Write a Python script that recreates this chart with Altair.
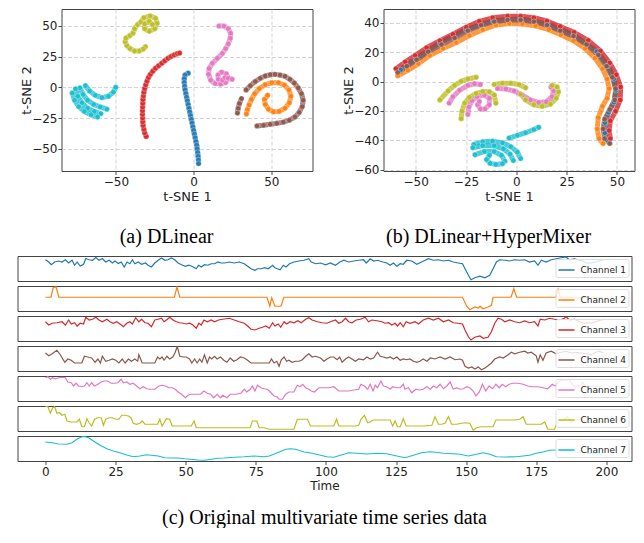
import altair as alt
import pandas as pd

TAB10 = ["#1f77b4", "#ff7f0e", "#d62728", "#8c564b", "#e377c2", "#bcbd22", "#17becf"]
CHANNELS = ["1", "2", "3", "4", "5", "6", "7"]

# ---------------- (a) DLinear t-SNE : segments (channel, points) ----------------
A_SEGS = [
    ("1", [(-3.5, 11.5), (-5.5, 10), (-6, 7), (-6, 4), (-5.8, 1), (-5.5, -2), (-5, -5), (-4.5, -8), (-4, -11),
           (-3.5, -14), (-3, -17), (-2.5, -20), (-2, -23), (-1.5, -26), (-1, -29), (-0.5, -32), (0, -35),
           (0.5, -38), (1, -41), (1.5, -44), (2, -47), (2.3, -50), (2.6, -53), (2.9, -56), (3.1, -59), (3.2, -62)]),
    ("2", [(47.6, -6.5), (45.6, -9.9), (46.1, -13.9), (48.2, -17.8), (51.4, -19.9), (55, -19.6), (58.8, -17),
           (61.6, -12.6), (62.6, -7.3), (61.4, -2.1), (58.4, 1.8), (54.6, 3.7), (50.3, 3.7), (46.1, 2.1),
           (42.3, -1), (39.3, -5.2), (37.2, -9.9), (35.7, -14.4), (34.6, -18.3), (34, -21.7)]),
    ("3", [(-30.5, -40), (-31.5, -37), (-32, -34), (-32.5, -31), (-32.7, -28), (-32.8, -25), (-32.9, -22),
           (-32.9, -19), (-32.8, -16), (-32.7, -13), (-32.6, -10), (-32.3, -7), (-32, -4), (-31.5, -1),
           (-30.8, 2), (-30, 5), (-29, 8), (-27.8, 10.5), (-26.3, 13), (-24.5, 15.5), (-22.5, 17.5),
           (-20.5, 19.5), (-18.5, 21.5), (-16.5, 23.5), (-14.5, 25), (-12.5, 26.3), (-10.5, 27.3), (-9, 27.8)]),
    ("4", [(33.8, -2.1), (36.5, 1.3), (39.7, 4.7), (42.9, 7.3), (46.1, 9.2), (49.3, 10.2), (52.4, 10.5),
           (55.6, 9.9), (58.8, 8.9), (62, 6.5), (64.8, 3.4), (67.3, -0.5), (69.4, -5.2), (70.5, -10.5),
           (69.9, -15.7), (67.9, -20.4), (65.2, -24.1), (61.6, -26.7), (57.7, -28.3), (53.5, -29.3),
           (49.3, -30.1), (45, -30.9), (40.8, -31.4)]),
    ("4", [(28.2, -20.9), (28.7, -17), (29.5, -13.1), (30.8, -9.2)]),
    ("5", [(16.3, 49.7), (19.5, 49.7), (22.3, 47.6), (23.8, 44), (23.6, 39.8), (22.3, 35.3), (20.6, 31.4),
           (18.5, 27.5), (15.3, 23.6), (12.1, 19.6), (10, 15.2), (9.6, 10.5), (11, 5.8), (13.8, 3.1),
           (17.4, 2.6), (20.6, 3.9), (22.3, 7.3), (21, 11), (18, 12.3), (15.7, 10), (15.9, 6.5),
           (18.5, 5.8), (20.2, 7.9)]),
    ("5", [(22.3, 7.3), (24.8, 6.5)]),
    ("6", [(-31, 33), (-32.5, 31), (-35, 29.5), (-38, 29.5), (-41, 31.5), (-43, 34), (-44, 37), (-43.5, 40),
           (-41, 42), (-39, 44), (-38, 47.5), (-36, 51), (-34, 53), (-32, 56.5), (-28, 58), (-24.5, 56),
           (-23.5, 52), (-25, 47.5), (-28.5, 45.5), (-31.5, 47.5), (-31.5, 51.5), (-28.5, 53.5), (-26.5, 51)]),
    ("7", [(-69.6, 1.3), (-66.9, -3.1), (-63.3, -6.5), (-59, -8.4), (-54.8, -7.3), (-51.6, -3.9), (-50.1, 0)]),
    ("7", [(-73.2, -0.5), (-71.1, -5.8), (-68.2, -10.5), (-64.3, -13.9), (-60.1, -16), (-55.8, -17.8)]),
    ("7", [(-76, -1.3), (-74.5, -7.3), (-71.8, -12.6), (-68.2, -17), (-63.9, -19.6), (-59.7, -21.5)]),
    ("7", [(-78.1, -4.7), (-76.6, -10.5), (-73.9, -15.7), (-70.3, -19.6), (-66, -22.3), (-61.8, -24.1)]),
]

# ---------------- (b) DLinear+HyperMixer t-SNE ----------------
B_SEGS = [
    ("1", [(-57.5, 8), (-50, 15.5), (-38, 26.5), (-25, 35.5), (-11.5, 41.5), (2, 42.8), (15.5, 39.2),
           (28.5, 31.8), (40, 20.5), (45.5, 10.8), (48.5, 2), (49.5, -6), (48.5, -14), (45.8, -21),
           (44, -28), (44, -35), (45, -40)]),
    ("2", [(-58.9, 4), (-53.9, 7.7), (-48.7, 12.1), (-43, 17.8), (-36.4, 22.6), (-29.8, 26.6), (-23.3, 31.4),
           (-16.7, 35.4), (-10.2, 38.5), (-3.6, 39.6), (3, 39.3), (9.5, 38), (16.1, 35.4), (22.1, 31.9),
           (28.4, 27.9), (34.1, 22.6), (39, 16), (42.8, 8.8), (45.1, 1.8), (46.1, -4.8), (45.1, -11.4),
           (42.8, -16.9), (40.7, -24.6), (40.2, -32.3), (41.1, -38.9), (43.1, -42.2)]),
    ("3", [(-59.8, 8.8), (-55.2, 13.4), (-50.3, 17.8), (-44.6, 23.1), (-38, 27.9), (-31.5, 32.3), (-24.9, 37.1),
           (-18.4, 41.1), (-11.8, 43.5), (-4.4, 44.6), (2.1, 44.6), (8.7, 43.5), (15.2, 41.3), (21.8, 37.6),
           (28.7, 33.6), (35.7, 28.1), (41.8, 20.9), (46.4, 12.7), (49.7, 4.6), (51.8, -3.7), (51.6, -12.5),
           (49.3, -20.2), (46.7, -26.8), (46.1, -33.4), (46.7, -38.9)]),
    ("4", [(-58.9, 6.2), (-54.4, 10.5), (-49.5, 14.9), (-43.8, 20.4), (-37.2, 25.3), (-30.7, 29.7),
           (-24.1, 34.7), (-17.5, 38.5), (-11, 40.9), (-4.4, 42), (2.1, 42), (8.7, 40.9), (15.2, 38.5),
           (21.8, 34.7), (28.4, 31), (34.9, 25.3), (40.7, 18.2), (44.8, 10.5), (47.7, 2.9), (49.3, -4.8),
           (48.9, -12.5), (46.4, -19.1), (43.9, -25.7), (43.1, -32.3), (43.9, -38.9), (46.4, -42.2)]),
    ("5", [(-33.4, -14.7), (-31.5, -10.3), (-28.2, -5.9), (-24.1, -2.6), (-20.8, -1.5), (-17.9, -2)]),
    ("5", [(-24.1, -22.4), (-23.6, -17.4), (-22.1, -13), (-19.5, -10.3), (-15.9, -9.2), (-13.4, -11.4),
           (-13.4, -15.8), (-15.6, -18.7), (-17.9, -18.7), (-19.2, -15.8), (-18.4, -13.6)]),
    ("5", [(-9.3, -4.8), (-5.2, -5.1), (-1.1, -6.4), (3, -9.2), (7, -12.5), (11.1, -14.3), (14.9, -13.8),
           (17.7, -10.3), (18.5, -6.4), (17.2, -3.7)]),
    ("6", [(-38, -12.5), (-33.9, -6.4), (-30.7, -2.6), (-27.4, 0.2), (-24.1, 1.8), (-20, 2.9)]),
    ("6", [(-27.4, -25.3), (-27, -20.2), (-25.7, -14.7), (-23.3, -10.8), (-20, -8.1), (-16.7, -6.8),
           (-13.4, -7), (-11, -9.2), (-10.2, -14.7)]),
    ("6", [(-11, -2), (-6.9, -1.1), (-2.8, -1.1), (1.3, -2), (4.6, -4.2)]),
    ("6", [(2.1, -8.6), (4.6, -12.5), (8.7, -15.8), (12.8, -16.9), (16.9, -15.4), (19.8, -11.4), (20.9, -7),
           (20.2, -3.7), (17.7, -2.6)]),
    ("7", [(-3.6, -38.5), (0.5, -36.7), (4.6, -34.9), (8.7, -32.7), (11.1, -31.2)]),
    ("7", [(-21.1, -42.9), (-16.7, -41.1), (-11.8, -40.7), (-6.9, -41.8), (-2.8, -44.4), (0.5, -48.1), (2.1, -52.5)]),
    ("7", [(-21.6, -45.1), (-16.7, -43.7), (-11, -43.7), (-6.4, -45.9), (-3.1, -49.5), (-1.5, -53.8)]),
    ("7", [(-20.5, -49.9), (-15.9, -47.7), (-11, -47.7), (-7.4, -50.3), (-5.7, -54.3)]),
    ("7", [(-13.4, -50.3), (-14.8, -53.2), (-13, -55.8), (-10.2, -56.5), (-6.9, -56)]),
]

# ---------------- (c) original multivariate series (time, value) ----------------
CH1 = [(0, 8.5), (1.2, 7.6), (2.1, 6.5), (3.3, 7.6), (4.7, 8.0), (5.9, 7.6), (7.1, 8.5), (8.3, 7.2), (9.5, 8.3),
       (10.4, 6.3), (11.3, 7.6), (12.4, 6.0), (13.6, 6.7), (14.4, 9.0), (15.6, 8.5), (16.8, 8.3), (18, 9.4),
       (19.1, 8.3), (20.3, 9.0), (21.5, 7.6), (22.7, 8.3), (23.9, 7.2), (24.8, 8.0), (26, 7.0), (27, 7.6),
       (28.1, 5.6), (29.1, 7.6), (30.1, 6.9), (31, 8.5), (31.9, 6.9), (33.1, 7.6), (34.3, 6.7), (35.7, 7.2),
       (36.6, 6.3), (37.8, 5.6), (39, 7.2), (40.2, 8.3), (41.4, 9.2), (42.6, 8.3), (43.7, 8.5), (44.9, 9.2),
       (46.1, 8.5), (47.3, 7.2), (48.5, 6.5), (49.9, 5.9), (51.1, 6.3), (52.2, 5.9), (53.8, 4.9), (54.6, 6.3),
       (55.6, 5.6), (56.7, 6.5), (57.9, 6.3), (59.1, 6.9), (60.3, 6.9), (61.5, 7.6), (62.6, 7.2), (63.8, 7.2),
       (65.6, 7.6), (67.3, 7.2), (69.1, 7.6), (70.9, 6.9), (72.1, 5.9), (73.3, 4.9), (74.7, 4.3), (75.6, 4.9),
       (77, 4.9), (78.2, 5.3), (79.4, 4.9), (81, 6.3), (81.8, 5.3), (82.7, 4.9), (83.7, 4.5), (84.8, 6.3),
       (85.8, 5.6), (87, 6.9), (88.6, 7.6), (90.4, 8.0), (92.2, 8.3), (93.9, 8.9), (94.8, 7.6), (96.3, 6.9),
       (98.1, 7.2), (99.9, 6.5), (101.6, 7.2), (103.4, 6.3), (105, 7.6), (106.4, 8.3), (108.1, 7.6),
       (109.9, 8.0), (111.7, 8.3), (113.4, 8.5), (114.4, 7.2), (115.8, 8.9), (117, 8.0), (118.4, 8.3),
       (120.3, 7.6), (121.7, 7.2), (122.9, 6.3), (124.1, 7.2), (125.3, 5.9), (126.5, 6.9), (127.6, 6.7),
       (128.8, 8.3), (130.6, 8.0), (132.4, 6.7), (134.1, 7.6), (136.6, 8.9), (138.3, 8.3), (140.1, 8.5),
       (141.9, 8.0), (143.7, 8.3), (145.4, 7.6), (147.2, 7.2), (148.7, 6.9), (149.6, 4.9), (150.8, 2.3),
       (151.7, 0.5), (153.1, 1.3), (154.9, 1.9), (156.7, 1.3), (158.4, 2.3), (159.6, 4.9), (160.8, 7.6),
       (162, 8.5), (163.8, 8.3), (165.5, 8.0), (167.3, 8.5), (169.1, 8.3), (170.9, 8.5), (172.6, 7.6),
       (174.4, 8.0), (175.6, 6.3), (176.8, 8.3), (178.5, 7.6), (180.3, 8.5), (182.1, 8.9), (183.9, 9.3),
       (185.6, 9.6), (186.8, 8.5), (188.6, 8.9), (190.4, 8.3), (191.5, 8.0), (192.7, 7.2), (194.5, 7.2),
       (196.3, 7.6), (199, 8.5)]
CH2 = [(0, 5.5), (2, 5.5), (2.8, 9.4), (3.8, 9.6), (4.8, 5.5), (46, 5.5), (46.9, 9.6), (47.9, 5.5), (79, 5.5),
       (80, 1.9), (80.7, 5.3), (81.8, 1.9), (84, 1.9), (85, 5.5), (148.7, 5.5), (150.2, 1.9), (151.3, 0.5),
       (153.1, 1.6), (154.3, 1.2), (155, 1.9), (156, 0.9), (157.8, 1.6), (159, 2.3), (159.6, 5.5), (166, 5.5),
       (167, 8.9), (168, 5.5), (182, 5.5), (182.8, 8.7), (183.6, 5.5), (199, 5.5)]
CH3 = [(0, 7.7), (1.2, 6.4), (2.4, 7.1), (4.1, 7.3), (5.9, 7.7), (7.1, 6.4), (8.3, 8.4), (9.2, 6.8), (10.4, 7.3),
       (11.3, 6.0), (12.4, 7.1), (13.6, 6.8), (14.4, 9.5), (15.6, 8.4), (16.8, 8.7), (18, 9.5), (19.1, 8.4),
       (20.3, 7.7), (21.9, 8.7), (23, 7.7), (24.2, 7.1), (25.4, 7.7), (26.6, 6.8), (27.8, 5.7), (29, 7.1),
       (30.1, 7.7), (31, 6.8), (32.2, 9.3), (33.3, 7.7), (34.3, 8.7), (35.5, 7.3), (36.6, 7.1), (37.8, 5.7),
       (39, 8.4), (40.2, 8.7), (41.4, 9.1), (42.3, 7.7), (43.5, 8.7), (44.3, 9.5), (45.5, 8.4), (46.7, 7.7),
       (47.9, 7.3), (49.1, 7.1), (50.2, 6.8), (51.4, 7.1), (52.6, 6.4), (53.8, 5.1), (54.7, 7.1), (55.6, 6.4),
       (56.5, 8.4), (57.7, 7.7), (59.1, 8.4), (60.3, 7.7), (61.7, 8.4), (63.2, 8.7), (65.6, 9.1), (67.3, 8.4),
       (69.1, 7.7), (70.9, 7.1), (72.1, 6.0), (73.3, 4.7), (74.7, 4.4), (76.2, 5.1), (77.4, 5.5), (78.6, 6.0),
       (79.8, 5.1), (81, 7.3), (81.8, 6.0), (83, 6.8), (83.9, 5.5), (85.1, 7.7), (86, 6.8), (87.2, 7.7),
       (88.6, 7.3), (90, 8.1), (91.2, 7.3), (92.8, 8.7), (93.9, 9.3), (95.1, 8.4), (96.9, 7.7), (98.7, 7.3),
       (100.4, 7.1), (101.6, 7.7), (103.4, 8.4), (104.6, 7.1), (105.8, 7.7), (107, 9.1), (108.1, 7.7),
       (109.3, 7.3), (110.8, 8.4), (112.3, 8.7), (114, 9.5), (115.2, 7.7), (116.4, 8.4), (118.2, 8.1),
       (119.9, 7.7), (121.1, 7.1), (122.3, 7.3), (123.5, 6.4), (124.7, 7.1), (125.5, 6.0), (126.5, 7.3),
       (127.6, 5.7), (128.6, 7.7), (130, 7.1), (131.8, 7.7), (133, 6.8), (134.7, 8.4), (136.6, 9.1),
       (138.3, 8.4), (140.1, 9.1), (141.9, 7.7), (143.7, 8.4), (145.4, 7.3), (147.2, 7.1), (148.7, 6.8),
       (149.6, 4.4), (150.8, 1.7), (151.7, 0.4), (153.1, 1.5), (154.9, 2.0), (156.1, 1.1), (157.8, 1.5),
       (159, 3.7), (160.2, 7.1), (161.4, 9.1), (162.6, 8.7), (163.8, 7.7), (165.5, 8.4), (167.3, 7.7),
       (169.1, 7.3), (170.9, 8.0), (172.6, 7.3), (174.4, 7.7), (175.6, 6.0), (176.4, 8.7), (178, 8.4),
       (179.7, 9.1), (181.5, 8.7), (183.3, 8.4), (185, 9.1), (185.6, 9.7), (186.8, 8.4), (188.6, 8.7),
       (190.4, 7.7), (192.1, 7.1), (193.3, 7.3), (194.5, 7.1), (196.3, 7.7), (199, 8.7)]
CH4 = [(0, 7.2), (1.2, 6.1), (2.4, 6.9), (4.1, 8.3), (5.3, 6.5), (6.9, 3.5), (8, 4.8), (9.2, 4.3), (10.4, 3.2),
       (11.8, 3.2), (13, 3.2), (13.9, 5.9), (15.1, 5.6), (16.5, 5.2), (17.7, 3.5), (18.7, 4.8), (19.6, 3.2),
       (20.3, 5.9), (21.5, 3.9), (22.7, 4.3), (23.9, 4.8), (25.1, 4.3), (26.2, 3.2), (27.4, 4.8), (28.4, 3.2),
       (29.6, 4.8), (30.7, 3.9), (31.9, 4.8), (32.9, 3.9), (33.3, 6.5), (34.5, 3.2), (36.1, 3.2), (37.8, 3.2),
       (39, 3.2), (40, 5.6), (40.8, 4.8), (41.6, 5.6), (42.3, 4.3), (43.3, 5.9), (44.3, 4.8), (45.4, 5.6),
       (46.3, 7.5), (47, 9.9), (47.9, 5.9), (49.1, 5.6), (50.2, 5.6), (51.4, 4.8), (52.2, 3.2), (53.2, 4.8),
       (54.1, 3.2), (55, 4.8), (55.8, 3.5), (56.7, 6.5), (57.7, 3.2), (58.5, 5.6), (59.3, 4.8), (60.3, 5.9),
       (61.2, 4.8), (62.4, 5.6), (63.6, 4.3), (64.7, 3.5), (65.9, 5.2), (67.1, 3.9), (68.3, 4.5), (69.5, 5.6),
       (70.9, 5.2), (72.1, 4.3), (73.3, 3.2), (75, 3.2), (76.8, 3.2), (78.6, 3.2), (79.8, 3.2), (80.6, 4.8),
       (81.5, 3.2), (82.5, 3.9), (83.3, 1.9), (84.1, 4.5), (85.1, 5.6), (86, 3.9), (86.8, 4.3), (88, 3.5),
       (89.2, 3.9), (90.4, 3.9), (91.6, 4.5), (92.8, 5.9), (93.9, 6.9), (95.1, 5.6), (96.3, 5.9), (98.1, 5.2),
       (99.3, 3.9), (100.4, 4.8), (101.6, 5.6), (102.8, 5.6), (104, 4.5), (104.9, 5.6), (105.8, 3.5),
       (107, 4.8), (108.1, 5.6), (109.3, 4.8), (110.5, 3.9), (111.7, 4.8), (113.4, 4.5), (114.6, 5.6),
       (115.8, 4.8), (117, 5.2), (118.4, 7.5), (119.4, 5.9), (120.5, 5.6), (121.7, 5.2), (122.9, 5.6),
       (124.1, 4.8), (125.3, 5.6), (126.5, 4.3), (127.6, 4.8), (128.8, 4.5), (130, 4.8), (131.2, 3.9),
       (132.4, 3.5), (133.5, 3.9), (134.7, 4.8), (136, 3.9), (137.2, 5.2), (138.9, 4.8), (140.7, 5.6),
       (142.5, 4.8), (144.3, 5.6), (146, 4.5), (147.8, 4.8), (148.7, 4.3), (149.6, 1.9), (150.8, 1.2),
       (152, 1.6), (153.1, 0.8), (154.3, 1.6), (155.5, 0.5), (156.7, 1.2), (157.8, 2.1), (159, 3.2),
       (160.2, 4.8), (162, 5.6), (163.2, 5.2), (165, 6.5), (166.1, 7.5), (167.3, 6.9), (169.1, 7.5),
       (170.9, 7.9), (172, 7.2), (173.2, 7.5), (175, 6.1), (175.6, 3.5), (176.4, 6.5), (177.4, 4.3),
       (178.5, 7.2), (180.3, 7.9), (182.1, 6.9), (183.9, 7.5), (185.6, 7.9), (187.4, 7.2), (189.2, 7.5),
       (190.9, 7.2), (192.7, 6.9), (194.5, 6.5), (196.3, 7.5), (197.4, 7.9), (199, 7.2)]
CH5 = [(0, 9.3), (0.9, 9.7), (1.8, 8.7), (2.6, 9.3), (3.5, 8.9), (4.7, 9.3), (5.9, 9.5), (7.1, 9.3), (8, 7.6),
       (9.2, 7.3), (10, 6.0), (10.9, 7.1), (11.8, 6.0), (12.8, 5.7), (13.9, 6.0), (14.8, 7.3), (15.6, 6.0),
       (16.5, 7.3), (17.5, 6.0), (18.7, 6.7), (19.9, 7.6), (21, 8.0), (22.2, 8.0), (23.4, 7.1), (24.6, 7.1),
       (25.8, 7.3), (27, 8.7), (27.8, 7.3), (29, 7.6), (30.1, 6.7), (31.3, 7.1), (32.5, 6.0), (33.7, 4.9),
       (34.9, 5.7), (36.1, 4.9), (37.2, 4.7), (39, 4.7), (40.4, 6.0), (41.6, 6.3), (42.8, 6.0), (44, 5.3),
       (45.2, 5.3), (46.3, 4.7), (47.3, 3.6), (48.5, 2.7), (49.9, 1.3), (50.8, 2.3), (52, 2.7), (53.8, 2.7),
       (55.3, 2.7), (56.5, 4.0), (57.7, 3.1), (58.9, 2.7), (60, 1.3), (61.2, 2.7), (62.4, 1.3), (63.2, 2.3),
       (64.7, 1.3), (65.9, 2.7), (67.9, 2.7), (69.7, 3.1), (70.9, 4.7), (71.8, 3.6), (73, 4.7), (73.8, 6.0),
       (74.7, 4.0), (75.6, 6.3), (76.8, 5.3), (78, 4.9), (79.2, 4.7), (80.4, 3.3), (81.5, 2.0), (82.5, 1.7),
       (83.3, 0.7), (84.5, 0.7), (85.7, 2.7), (86.8, 3.6), (88.6, 3.6), (89.8, 6.3), (90.8, 5.7), (91.7, 6.7),
       (92.8, 5.3), (93.9, 4.7), (94.8, 4.0), (95.9, 3.6), (97.5, 5.3), (99.3, 5.3), (101, 5.3), (102.8, 5.7),
       (104.6, 4.0), (106.4, 4.0), (108.1, 4.0), (109.9, 4.4), (111.7, 4.7), (112.5, 6.7), (113.7, 6.0),
       (114.9, 4.7), (115.8, 6.7), (116.8, 4.0), (117.6, 6.3), (118.4, 5.3), (119.6, 8.0), (120.5, 6.0),
       (121.7, 5.7), (122.9, 4.7), (123.8, 5.7), (125.3, 5.3), (126.5, 5.3), (127.6, 6.7), (128.2, 4.7),
       (129.4, 5.3), (130.6, 3.3), (132.1, 4.7), (133.5, 4.4), (134.7, 4.7), (136, 5.7), (137.2, 4.7),
       (138.3, 6.0), (139.5, 5.3), (140.7, 6.7), (141.9, 4.9), (143.1, 6.0), (144.3, 7.6), (145.4, 4.7),
       (146.6, 5.3), (147.8, 4.7), (149, 4.9), (150.2, 5.7), (151.3, 5.3), (152.5, 4.0), (153.5, 2.0),
       (154.7, 3.6), (155.8, 6.7), (157, 4.0), (158.2, 6.0), (159.4, 4.9), (160.6, 6.7), (161.8, 5.3),
       (162.9, 6.7), (164.1, 5.7), (165.3, 6.7), (166.7, 7.1), (168.5, 7.1), (170.3, 6.7), (172, 6.0),
       (173.8, 5.7), (175.6, 5.7), (177.4, 5.3), (179.1, 4.9), (180.7, 6.7), (181.8, 6.0), (183.3, 8.0),
       (185, 8.4), (186.8, 8.4), (188.6, 5.7), (189.8, 6.0), (190.9, 6.0), (191.5, 7.6), (192.7, 5.7),
       (194.5, 6.0), (196.3, 5.7), (199, 6.0)]
CH6 = [(0, 9.8), (0.9, 9.7), (1.8, 7.1), (2.6, 9.3), (3.3, 9.7), (4.1, 7.1), (5, 7.3), (5.9, 6.3), (6.9, 6.7),
       (7.7, 4.0), (8.9, 3.6), (10, 3.6), (11.2, 3.6), (12.1, 4.7), (13, 1.7), (13.9, 1.7), (14.8, 4.9),
       (15.6, 3.3), (16.5, 2.0), (17.5, 4.7), (18.7, 5.3), (19.9, 5.3), (20.7, 2.3), (21.5, 4.7), (22.7, 5.3),
       (23.9, 5.3), (25.1, 4.7), (26.2, 4.7), (27.2, 6.3), (28.4, 6.3), (29.6, 6.0), (30.5, 5.3), (31.3, 3.1),
       (32.5, 2.7), (33.7, 3.1), (34.5, 4.0), (35.5, 2.7), (36.6, 2.7), (37.6, 2.7), (38.8, 2.7), (40, 2.7),
       (40.8, 4.7), (41.6, 2.0), (42.3, 3.3), (43.1, 4.9), (44.3, 4.7), (45.2, 2.0), (46.1, 2.0), (47.3, 2.0),
       (49.6, 2.0), (52, 2.0), (53, 4.0), (53.8, 1.3), (55.6, 1.3), (57.9, 1.3), (60.3, 1.3), (62.6, 1.3),
       (65.6, 1.3), (68.5, 1.3), (73, 1.3), (73.8, 4.0), (75.4, 4.0), (76.2, 1.3), (78, 1.3), (79.8, 0.7),
       (82.7, 0.7), (85.7, 0.7), (88.6, 0.7), (89.8, 4.7), (91, 4.7), (93.4, 4.7), (94.5, 2.0), (98.1, 2.0),
       (101.6, 2.0), (102.8, 2.0), (103.8, 4.7), (104.6, 2.0), (107.5, 2.0), (110.5, 2.0), (111.7, 2.3),
       (112.5, 4.7), (113.7, 6.3), (114.9, 3.3), (115.8, 3.6), (116.8, 4.4), (118.2, 4.4), (120.5, 4.4),
       (122.9, 4.4), (123.8, 2.0), (124.7, 4.0), (125.5, 1.7), (126.5, 1.7), (127.6, 4.9), (128.6, 2.0),
       (131.2, 2.0), (134.7, 2.0), (137.8, 2.3), (138.9, 5.7), (140.1, 2.7), (141.3, 2.7), (142.5, 3.1),
       (143.7, 5.7), (144.8, 2.7), (146.6, 2.7), (148.4, 3.1), (149.6, 3.3), (151.3, 3.1), (152.5, 0.4),
       (153.7, 1.3), (155.5, 1.7), (157.8, 1.7), (159.6, 1.7), (160.6, 4.4), (162.6, 4.4), (165, 4.4),
       (167.3, 4.4), (169.1, 4.7), (170.3, 5.7), (171.4, 2.7), (173.8, 2.7), (176.8, 2.7), (178, 3.6),
       (179.1, 0.7), (181.5, 0.7), (182.7, 4.0), (184.4, 4.0), (186.2, 5.7), (187.4, 3.3), (189.2, 4.7),
       (190.9, 4.7), (192.7, 4.0), (194.5, 3.3), (196.3, 3.3), (199, 4.0)]
CH7 = [(0, 7.6), (2.4, 7.3), (4.7, 6.8), (7.7, 6.7), (9.5, 7.3), (11.2, 8.7), (13, 9.7), (14.2, 9.7),
       (15.4, 9.3), (17.1, 8.0), (19.5, 6.3), (21.9, 4.9), (24.2, 4.0), (26.6, 3.3), (29, 2.4), (31.3, 1.7),
       (33.7, 2.0), (36.1, 2.5), (37.8, 2.3), (40.2, 2.0), (42.6, 1.3), (44.9, 1.2), (47.3, 1.2), (49.6, 0.9),
       (52, 0.7), (54.4, 0.4), (56.7, 0.3), (59.1, 0.7), (61.5, 1.1), (63.8, 1.2), (67.3, 1.5), (70.9, 1.7),
       (74.4, 2.0), (78, 1.7), (79.8, 2.0), (82.7, 3.3), (85.7, 4.7), (87.4, 4.9), (89.2, 4.7), (92.2, 3.6),
       (95.1, 3.1), (98.1, 2.3), (100.4, 1.7), (102.8, 1.5), (105.2, 2.3), (108.1, 3.3), (111.1, 3.1),
       (114.6, 2.8), (118.2, 3.1), (121.7, 2.9), (125.3, 2.0), (128.2, 1.3), (131.2, 2.3), (134.1, 3.3),
       (137.1, 3.7), (138.3, 3.6), (141.9, 3.1), (145.4, 2.9), (147.8, 2.7), (150.8, 2.0), (153.7, 2.7),
       (156.1, 3.3), (158.4, 2.7), (160.8, 1.7), (164.3, 1.6), (167.9, 1.7), (170.3, 2.0), (172.6, 2.3),
       (175, 3.1), (177.4, 3.6), (179.7, 4.3), (182.1, 4.4), (184.4, 4.4), (186.8, 4.1), (189.2, 3.6),
       (192.7, 3.3), (195.7, 2.9), (199, 2.8)]
SERIES = [CH1, CH2, CH3, CH4, CH5, CH6, CH7]
TIME_TICKS = [0, 25, 50, 75, 100, 125, 150, 175, 200]

SANS = "DejaVu Sans"
SERIF = "Liberation Serif"


def seg_frame(segs):
    rows = []
    for si, (ch, pts) in enumerate(segs):
        for k, (x, y) in enumerate(pts):
            rows.append({"ch": ch, "seg": si, "k": k, "x": x, "y": y})
    return pd.DataFrame(rows)


def tsne_panel(segs, xdom, ydom, xticks, yticks, legend_orient, caption):
    df = seg_frame(segs)
    xenc = alt.X("x:Q", scale=alt.Scale(domain=xdom, nice=False, zero=False),
                 axis=alt.Axis(values=xticks, title="t-SNE 1", format="d"))
    yenc = alt.Y("y:Q", scale=alt.Scale(domain=ydom, nice=False, zero=False),
                 axis=alt.Axis(values=yticks, title="t-SNE 2", format="d", titlePadding=-2,
                               labelPadding=1))
    lines = alt.Chart(df).mark_line(strokeWidth=5, opacity=0.8, strokeCap="round",
                                    strokeJoin="round", clip=True).encode(
        x=xenc, y=yenc, detail="seg:N", order="k:Q",
        stroke=alt.Stroke("ch:N", scale=alt.Scale(domain=CHANNELS, range=TAB10), legend=None))
    pts = alt.Chart(df).mark_circle(size=30, opacity=0.85, stroke="white", strokeWidth=0.4,
                                    clip=True).encode(
        x=xenc, y=yenc,
        color=alt.Color("ch:N", scale=alt.Scale(domain=CHANNELS, range=TAB10),
                        legend=alt.Legend(title="Channels", orient=legend_orient, offset=4,
                                          fillColor="rgba(255,255,255,0.85)", strokeColor="#cccccc",
                                          padding=3, cornerRadius=3, titleFont=SANS, titleFontSize=9,
                                          titleFontWeight="normal", titleColor="#222222", titlePadding=1,
                                          labelFont=SANS, labelFontSize=9, labelColor="#222222",
                                          symbolType="circle", symbolSize=28, symbolOffset=10,
                                          labelOffset=10, rowPadding=0)))
    return alt.layer(lines, pts).properties(
        width=251, height=162,
        title=alt.Title(caption, orient="bottom", anchor="middle", frame="bounds", font=SERIF,
                        fontSize=20, fontWeight="normal", color="black", offset=23))


left = tsne_panel(A_SEGS, [-85, 76.5], [-68, 63.6], [-50, 0, 50], [-50, -25, 0, 25, 50],
                  "top-left", "(a) DLinear")
right = tsne_panel(B_SEGS, [-66, 58.7], [-61, 49.5], [-50, -25, 0, 25, 50], [-60, -40, -20, 0, 20, 40],
                   "bottom-left", "(b) DLinear+HyperMixer")

panels = alt.hconcat(left, right, spacing=28).resolve_scale(
    color="independent", stroke="independent").resolve_legend(color="independent")

# invisible 1px anchor: it fixes the common left origin that the strips below line up with
anchor = alt.Chart(pd.DataFrame({"a": [0]})).mark_point(size=0, opacity=0).encode(
    x=alt.value(0), y=alt.value(0)
).properties(width=1, height=1, view=alt.ViewBackground(stroke="transparent"))

top = alt.hconcat(anchor, panels, spacing=0).resolve_scale(
    color="independent", stroke="independent").resolve_legend(color="independent")

strips = []
for i, pts in enumerate(SERIES):
    df = pd.DataFrame(pts, columns=["t", "v"])
    df["name"] = f"Channel {i + 1}"
    last = i == len(SERIES) - 1
    if last:
        xaxis = alt.Axis(values=TIME_TICKS, title="Time", grid=False, format="d", titleFontSize=12)
    else:
        xaxis = None
    c = alt.Chart(df).mark_line(strokeWidth=1.2, clip=True).encode(
        x=alt.X("t:Q", scale=alt.Scale(domain=[-9.95, 208.95], nice=False, zero=False), axis=xaxis),
        y=alt.Y("v:Q", scale=alt.Scale(domain=[0, 10], nice=False, zero=False), axis=None),
        color=alt.Color("name:N", scale=alt.Scale(range=[TAB10[i]]),
                        legend=alt.Legend(title=None, orient="top-right", offset=3,
                                          fillColor="rgba(255,255,255,0.8)", strokeColor="#dddddd",
                                          padding=2, cornerRadius=2, symbolType="stroke",
                                          symbolSize=260, symbolStrokeWidth=1.5, labelFont=SANS,
                                          labelFontSize=9, labelColor="#222222", labelOffset=5)),
    ).properties(width=614, height=25)
    if last:
        c = c.properties(title=alt.Title("(c) Original multivariate time series data", orient="bottom",
                                         anchor="middle", frame="group", font=SERIF, fontSize=20,
                                         fontWeight="normal", color="black", offset=16))
    strips.append(c)

stack = alt.vconcat(*strips, spacing=5, bounds="flush").resolve_scale(color="independent").resolve_legend(
    color="independent")

chart = alt.vconcat(top, stack, spacing=8).resolve_scale(
    color="independent", stroke="independent").resolve_legend(color="independent").properties(
    padding={"left": 8.5, "top": 0, "right": 0, "bottom": 0}
).configure(background="white").configure_view(stroke="#444444", strokeWidth=1).configure_axis(
    domain=False, grid=True, gridColor="#c8c8c8", gridDash=[4, 2], gridWidth=0.8,
    tickColor="#333333", tickSize=3.5, tickWidth=0.9, labelFont=SANS, labelFontSize=12,
    labelColor="#222222", labelPadding=2, titleFont=SANS, titleFontSize=13, titleFontWeight="normal",
    titleColor="#222222", titlePadding=3
)

chart.save("out.html", embed_options={"renderer": "svg", "actions": False})
